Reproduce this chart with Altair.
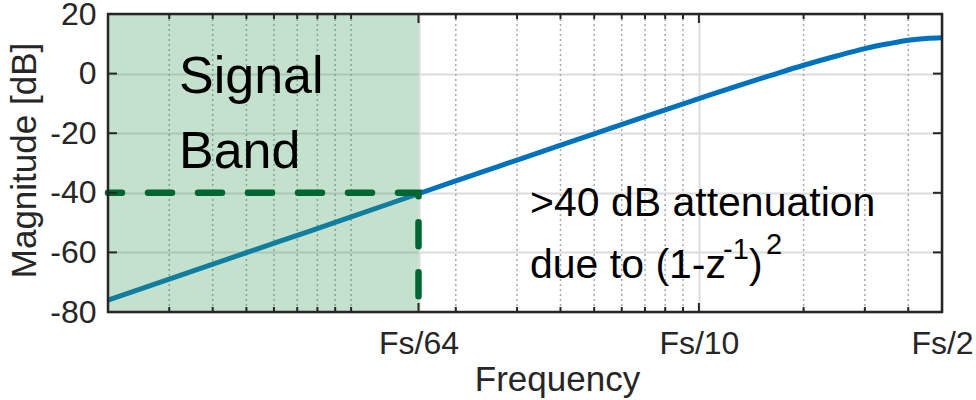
import altair as alt
import pandas as pd

# ---- data ----
freq = [0.002, 0.003, 0.005, 0.0075, 0.01, 0.015625, 0.02, 0.03, 0.05, 0.07,
        0.1, 0.13, 0.16, 0.2, 0.25, 0.3, 0.35, 0.4, 0.45, 0.5]
mag_db = [-76.0, -69.0, -60.1, -53.1, -48.1, -40.3, -36.0, -29.0, -20.2, -14.4,
          -8.4, -4.0, -0.7, 2.8, 6.0, 8.4, 10.0, 11.2, 11.8, 12.0]

x_min, x_max = 0.002, 0.5
y_min, y_max = -80, 20
band_lo, band_hi = 0.002, 1 / 64
spec_level = -40

major_ticks = [1 / 64, 0.1, 0.5]
major_labels = ["Fs/64", "Fs/10", "Fs/2"]
minor_ticks = [0.003, 0.004, 0.005, 0.006, 0.007, 0.008, 0.009, 0.01,
               0.02, 0.03, 0.04, 0.05, 0.06, 0.07, 0.08, 0.09,
               0.2, 0.3, 0.4]
y_ticks = [-80, -60, -40, -20, 0, 20]

band_text = ["Signal", "Band"]
note_line1 = ">40 dB attenuation"
note_line2 = "due to (1-z"
note_sup1 = "-1"
note_close = ")"
note_sup2 = "2"

# ---- layout / style ----
W, H = 834, 298
FONT = "Liberation Sans"
AX = "#262626"

xs = alt.Scale(type="log", domain=[x_min, x_max], nice=False)
ys = alt.Scale(domain=[y_min, y_max], nice=False)

expr = " : ".join(
    [f"abs(datum.value - {v}) < {v * 0.01} ? '{l}'" for v, l in zip(major_ticks, major_labels)]
) + " : ''"

x_axis = alt.Axis(values=major_ticks, labelExpr=expr, grid=True, gridColor="#dcdcdc",
                  gridWidth=2, ticks=False, tickSize=0, domain=False,
                  labelFont=FONT, labelFontSize=32, labelColor=AX, labelPadding=16,
                  labelOverlap=False, labelBound=False, labelFlush=False,
                  title="Frequency", titleFont=FONT, titleFontSize=35,
                  titleFontWeight="normal", titleColor=AX,
                  titleX=449, titleY=78, titleBaseline="alphabetic", titleAlign="center")
y_axis = alt.Axis(values=y_ticks, labelExpr="'' + datum.value",
                  grid=True, gridColor="#dcdcdc", gridWidth=2,
                  ticks=False, tickSize=0, domain=False,
                  labelFont=FONT, labelFontSize=32, labelColor=AX, labelPadding=12,
                  labelBound=False, labelFlush=False, labelOverlap=False,
                  title="Magnitude [dB]", titleFont=FONT, titleFontSize=35,
                  titleFontWeight="normal", titleColor=AX, titleAngle=270,
                  titleX=-73, titleY=146, titleBaseline="alphabetic", titleAlign="center")

X = lambda field: alt.X(field, scale=xs, axis=x_axis)
Y = lambda field: alt.Y(field, scale=ys, axis=y_axis)

curve = pd.DataFrame({"f": freq, "db": mag_db})
minor_df = pd.DataFrame({"f": minor_ticks})
major_df = pd.DataFrame({"f": major_ticks})
ytick_df = pd.DataFrame({"db": y_ticks})
band_df = pd.DataFrame({"f": [band_lo], "hi": [band_hi]})
spec_df = pd.DataFrame({"f": [band_lo, band_hi, band_hi],
                        "db": [spec_level, spec_level, y_min],
                        "o": [0, 1, 2]})

# minor dotted grid
minor_grid = alt.Chart(minor_df).mark_rule(
    color="#a8a8a8", strokeWidth=1.5, strokeDash=[2, 3]
).encode(x=X("f:Q"), y=alt.value(0), y2=alt.value(H))

line = alt.Chart(curve).mark_line(color="#0072BD", strokeWidth=5,
                                  interpolate="monotone", clip=True).encode(
    x=X("f:Q"), y=Y("db:Q"))

band = alt.Chart(band_df).mark_rect(color="#3a9d5a", opacity=0.3).encode(
    x=X("f:Q"), x2="hi:Q", y=alt.value(0), y2=alt.value(H))

spec = alt.Chart(spec_df).mark_line(color="#006633", strokeWidth=6.5,
                                    strokeDash=[24, 26], strokeCap="round",
                                    strokeDashOffset=10, clip=False).encode(
    x=X("f:Q"), y=Y("db:Q"), order="o:Q")

# inward tick marks (MATLAB style)
tick_style = dict(color=AX, strokeWidth=2)
xminor_bot = alt.Chart(minor_df).mark_rule(**tick_style).encode(
    x=X("f:Q"), y=alt.value(H), y2=alt.value(H - 5))
xminor_top = alt.Chart(minor_df).mark_rule(**tick_style).encode(
    x=X("f:Q"), y=alt.value(0), y2=alt.value(5))
xmajor_bot = alt.Chart(major_df).mark_rule(**tick_style).encode(
    x=X("f:Q"), y=alt.value(H), y2=alt.value(H - 9))
xmajor_top = alt.Chart(major_df).mark_rule(**tick_style).encode(
    x=X("f:Q"), y=alt.value(0), y2=alt.value(9))
y_left = alt.Chart(ytick_df).mark_rule(**tick_style).encode(
    y=Y("db:Q"), x=alt.value(0), x2=alt.value(9))
y_right = alt.Chart(ytick_df).mark_rule(**tick_style).encode(
    y=Y("db:Q"), x=alt.value(W - 9), x2=alt.value(W))

frame = alt.Chart(band_df).mark_rect(fill=None, stroke=AX, strokeWidth=2.5).encode(
    x=alt.value(0), x2=alt.value(W), y=alt.value(0), y2=alt.value(H))


def label(text, x, y, size):
    return alt.Chart(pd.DataFrame({"t": [text]})).mark_text(
        font=FONT, fontSize=size, color="black", align="left", baseline="alphabetic"
    ).encode(text="t:N", x=alt.value(x), y=alt.value(y))


texts = [
    label(band_text[0], 71, 79, 52),
    label(band_text[1], 71, 154, 52),
    label(note_line1, 422, 202, 41),
    label(note_line2, 422, 264, 41),
    label(note_sup1, 615, 245, 29),
    label(note_close, 641, 264, 41),
    label(note_sup2, 658, 240, 29),
]

chart = alt.layer(
    minor_grid, line, band, spec,
    xminor_bot, xminor_top, xmajor_bot, xmajor_top, y_left, y_right,
    *texts, frame
).properties(
    width=W, height=H,
    padding={"left": 108, "top": 14, "right": 34, "bottom": 88},
    autosize=alt.AutoSizeParams(type="none"),
).configure_view(stroke=None).configure(background="white")

chart.save("out.html", embed_options={"renderer": "svg", "actions": False})
